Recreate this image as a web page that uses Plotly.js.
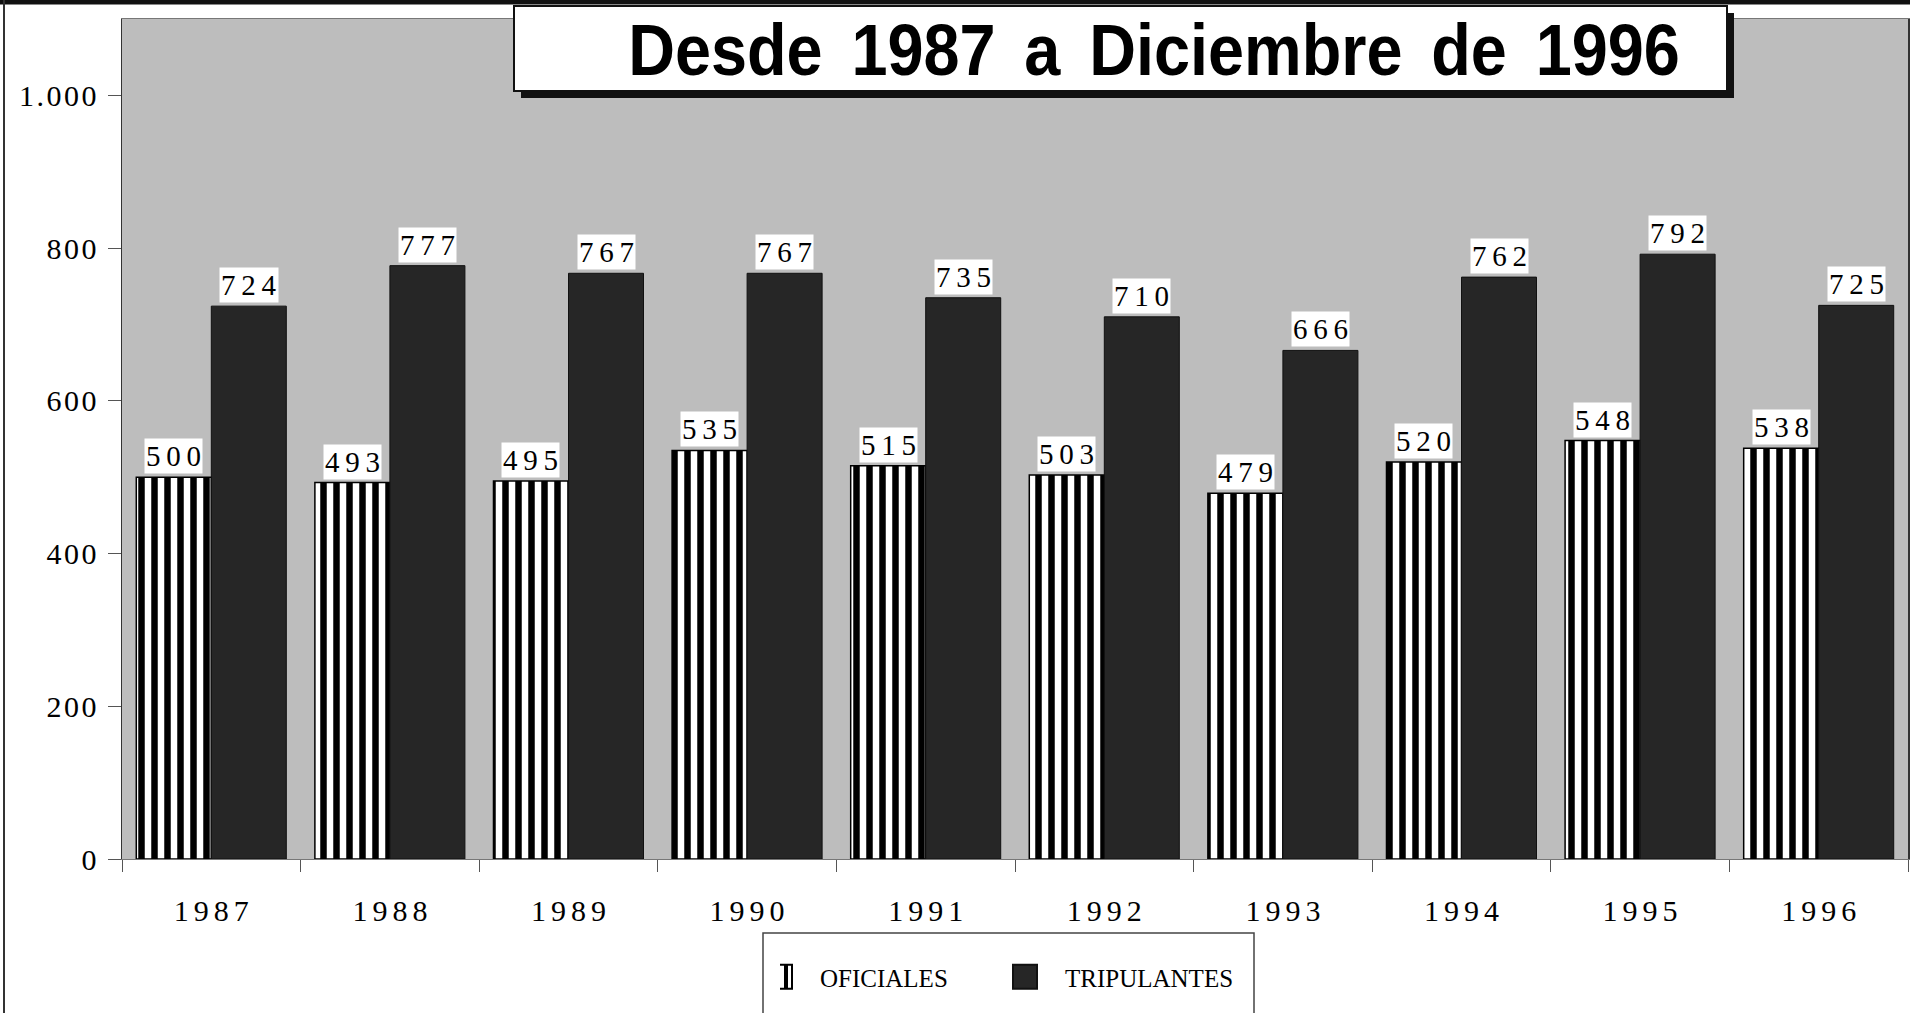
<!DOCTYPE html>
<html>
<head>
<meta charset="utf-8">
<script src="https://cdn.plot.ly/plotly-3.0.1.min.js"></script>
<style>
html,body{margin:0;padding:0;background:#fff;}
#chart{width:1910px;height:1013px;}
</style>
</head>
<body>
<div id="chart"></div>
<script>
// ---- data ----
const years = ['1987','1988','1989','1990','1991','1992','1993','1994','1995','1996'];
const oficiales = [500, 493, 495, 535, 515, 503, 479, 520, 548, 538];
const tripulantes = [724, 777, 767, 767, 735, 710, 666, 762, 792, 725];
const yTickValues = [0, 200, 400, 600, 800, 1000];
const seriesNames = ['OFICIALES', 'TRIPULANTES'];
const titleText = 'Desde 1987 a Diciembre de 1996';

// ---- layout helpers ----
const W = 1910, H = 1013;
const M = {l: 122, r: 2, t: 19, b: 154};
const PW = W - M.l - M.r, PH = H - M.t - M.b;
const px = x => (x - M.l) / PW;
const py = y => (H - M.b - y) / PH;
const BARGAP = 0.16;
const barOffset = (1 - BARGAP) / 4;
const TITLE_CX = 1154;

const serif = 'Liberation Serif, Times New Roman, serif';
const spaced = (s, sp) => String(s).split('').join(sp);
const fmtThousands = v => v >= 1000 ? Math.floor(v / 1000) + '.' + String(v % 1000).padStart(3, '0') : String(v);

const traces = [
  {
    type: 'bar', name: seriesNames[0], x: years, y: oficiales,
    marker: {
      color: '#ffffff',
      line: {color: '#000000', width: 1.5},
      pattern: {shape: '|', fgcolor: '#000000', bgcolor: '#ffffff', fgopacity: 1, size: 13, solidity: 0.5, fillmode: 'overlay'}
    },
    hoverinfo: 'skip'
  },
  {
    type: 'bar', name: seriesNames[1], x: years, y: tripulantes,
    marker: {color: '#262626', line: {color: '#111111', width: 1}},
    hoverinfo: 'skip'
  }
];

const labelFont = {family: serif, size: 29, color: '#000'};
const annotations = [];
years.forEach((yr, i) => {
  annotations.push({
    xref: 'x', yref: 'y', x: i - barOffset, y: oficiales[i],
    text: spaced(oficiales[i], '\u2009'), showarrow: false, yanchor: 'bottom', yshift: 3,
    bgcolor: '#ffffff', borderpad: 1, font: labelFont
  });
  annotations.push({
    xref: 'x', yref: 'y', x: i + barOffset, y: tripulantes[i],
    text: spaced(tripulantes[i], '\u2009'), showarrow: false, yanchor: 'bottom', yshift: 3,
    bgcolor: '#ffffff', borderpad: 1, font: labelFont
  });
});

const shapes = [
  // outer frame: thick top line and left line
  {type: 'line', xref: 'paper', yref: 'paper', x0: px(0), x1: px(W), y0: py(2), y1: py(2), line: {color: '#111', width: 5}, layer: 'above'},
  {type: 'line', xref: 'paper', yref: 'paper', x0: px(4), x1: px(4), y0: py(0), y1: py(H), line: {color: '#333', width: 2}, layer: 'above'},
  // title box shadow and box
  {type: 'rect', xref: 'paper', yref: 'paper', x0: px(521), x1: px(1734), y0: py(13), y1: py(98), fillcolor: '#111', line: {width: 0}, layer: 'above'},
  {type: 'rect', xref: 'paper', yref: 'paper', x0: px(514), x1: px(1727), y0: py(6), y1: py(91), fillcolor: '#fff', line: {color: '#111', width: 2}, layer: 'above'},
  // legend box
  {type: 'rect', xref: 'paper', yref: 'paper', x0: px(763), x1: px(1254), y0: py(933), y1: py(1030), fillcolor: 'rgba(0,0,0,0)', line: {color: '#444', width: 1.5}, layer: 'above'}
];

const layout = {
  width: W, height: H,
  margin: M,
  paper_bgcolor: '#ffffff',
  plot_bgcolor: '#bdbdbd',
  barmode: 'group',
  bargap: BARGAP,
  bargroupgap: 0,
  title: {
    text: titleText.replace(/ /g, ' \u2006'),
    font: {family: 'Liberation Sans, Arial, sans-serif', size: 72, weight: 700, color: '#000'},
    xref: 'container', yref: 'container',
    x: TITLE_CX / W, xanchor: 'center',
    y: 1 - 50 / H, yanchor: 'middle'
  },
  xaxis: {
    type: 'category',
    tickmode: 'array', tickvals: years, ticktext: years.map(y => spaced(y, '\u2006')),
    tickson: 'boundaries',
    ticks: 'outside', ticklen: 12, tickcolor: '#555', tickwidth: 1,
    ticklabelstandoff: 25,
    tickfont: {family: serif, size: 30, color: '#000'},
    showline: true, linecolor: '#777', linewidth: 1, mirror: true,
    showgrid: false, zeroline: false, fixedrange: true
  },
  yaxis: {
    range: [0, 1100],
    tickmode: 'array', tickvals: yTickValues, ticktext: yTickValues.map(v => spaced(fmtThousands(v), '\u200A')),
    ticks: 'outside', ticklen: 13, tickcolor: '#555', tickwidth: 1,
    ticklabelstandoff: 5,
    tickfont: {family: serif, size: 30, color: '#000'},
    showline: true, linecolor: '#333', linewidth: 1.5, mirror: true,
    showgrid: false, zeroline: false, fixedrange: true
  },
  showlegend: true,
  legend: {
    orientation: 'h',
    x: px(780), xanchor: 'left',
    y: py(954), yanchor: 'top',
    font: {family: serif, size: 25, color: '#000'},
    bgcolor: 'rgba(0,0,0,0)', borderwidth: 0,
    entrywidth: 200, entrywidthmode: 'pixels',
    itemwidth: 30, traceorder: 'normal'
  },
  shapes: shapes,
  annotations: annotations
};

Plotly.newPlot('chart', traces, layout, {displayModeBar: false, staticPlot: true}).then(gd => {
  const swatches = gd.querySelectorAll('.legend .legendpoints path');
  swatches.forEach(p => p.setAttribute('transform', 'scale(2)'));
  // striped legend swatch (first legend entry), square like the second one
  try {
    const NS = 'http://www.w3.org/2000/svg';
    const svg = gd.querySelector('svg.main-svg');
    let defs = svg.querySelector('defs');
    if (!defs) { defs = document.createElementNS(NS, 'defs'); svg.insertBefore(defs, svg.firstChild); }
    const sz = 4;
    const pat = document.createElementNS(NS, 'pattern');
    pat.setAttribute('id', 'legend-stripes');
    pat.setAttribute('patternUnits', 'userSpaceOnUse');
    pat.setAttribute('x', -6);
    pat.setAttribute('y', -6);
    pat.setAttribute('width', sz);
    pat.setAttribute('height', sz);
    const bg = document.createElementNS(NS, 'rect');
    bg.setAttribute('width', sz); bg.setAttribute('height', sz); bg.setAttribute('fill', '#ffffff');
    const ln = document.createElementNS(NS, 'rect');
    ln.setAttribute('x', 0); ln.setAttribute('width', sz / 2); ln.setAttribute('height', sz); ln.setAttribute('fill', '#000000');
    pat.appendChild(bg); pat.appendChild(ln);
    defs.appendChild(pat);
    const entries = gd.querySelectorAll('.legend .traces');
    const sw = entries[0] && entries[0].querySelector('.legendpoints path');
    const ref = entries[1] && entries[1].querySelector('.legendpoints path');
    if (sw) {
      sw.setAttribute('d', (ref && ref.getAttribute('d')) || 'M6,6H-6V-6H6Z');
      sw.setAttribute('transform', (ref && ref.getAttribute('transform')) || 'scale(2)');
      sw.style.fill = 'url(#legend-stripes)';
      sw.style.fillOpacity = '1';
      sw.style.stroke = '#000';
      sw.style.strokeWidth = '1px';
      sw.style.strokeOpacity = '1';
    }
  } catch (e) {}
  // condensed look of the original title lettering
  gd.querySelectorAll('.gtitle').forEach(t => {
    t.setAttribute('transform', 'translate(' + TITLE_CX + ',0) scale(0.9,1) translate(' + (-TITLE_CX) + ',0)');
  });
});
</script>
</body>
</html>
